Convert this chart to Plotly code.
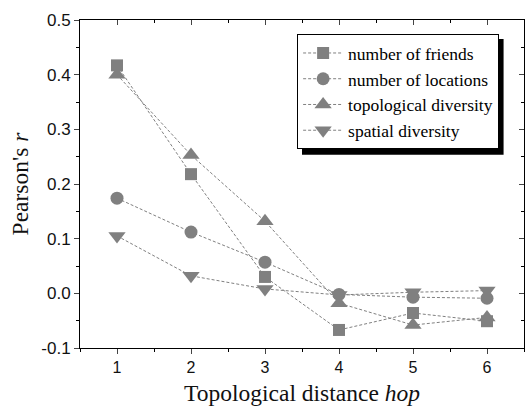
import plotly.graph_objects as go

hops = [1, 2, 3, 4, 5, 6]
series_names = ["number of friends", "number of locations", "topological diversity", "spatial diversity"]
friends = [0.417, 0.218, 0.030, -0.067, -0.036, -0.051]
locations = [0.174, 0.112, 0.057, -0.002, -0.007, -0.009]
topo_div = [0.400, 0.253, 0.132, -0.018, -0.058, -0.044]
spatial_div = [0.105, 0.032, 0.008, -0.003, 0.002, 0.005]
y_ticks = [-0.1, 0.0, 0.1, 0.2, 0.3, 0.4, 0.5]
y_tick_labels = ["-0.1", "0.0", "0.1", "0.2", "0.3", "0.4", "0.5"]
x_ticks = [1, 2, 3, 4, 5, 6]

GRAY = "#808080"
symbols = ["square", "circle", "triangle-up", "triangle-down"]
sizes = [12, 13, 15, 15]
values = [friends, locations, topo_div, spatial_div]

fig = go.Figure()
for name, vals, sym, sz in zip(series_names, values, symbols, sizes):
    fig.add_trace(go.Scatter(
        x=hops, y=vals, name=name, mode="lines+markers",
        line=dict(color=GRAY, width=1, dash="3px,2px"),
        marker=dict(symbol=sym, size=sz, color=GRAY),
    ))

# invisible trace to activate mirrored (top/right) axes
fig.add_trace(go.Scatter(x=[hops[0]], y=[y_ticks[0]], xaxis="x2", yaxis="y2",
                         mode="markers", marker=dict(opacity=0), showlegend=False,
                         hoverinfo="skip"))

sans = "Liberation Sans, Arial, sans-serif"
serif = "Liberation Serif, Times New Roman, serif"

fig.update_layout(
    template="none",
    width=526, height=412,
    margin=dict(l=80, r=2, t=20, b=64, autoexpand=False),
    plot_bgcolor="white", paper_bgcolor="white",
    showlegend=True,
    legend=dict(x=0.489, y=0.957, xanchor="left", yanchor="top",
                bgcolor="white", bordercolor="black", borderwidth=1,
                font=dict(family=serif, size=17.5, color="#000"),
                tracegroupgap=0, itemwidth=40),
    xaxis=dict(range=[0.5, 6.5], tickvals=x_ticks, ticks="outside", ticklen=5,
               showline=True, linecolor="black", linewidth=1, showgrid=False,
               zeroline=False, automargin=False,
               tickfont=dict(family=sans, size=16, color="#111"),
               minor=dict(dtick=0.5, tick0=0.5, ticks="outside", ticklen=3, tickcolor="black"),
               title=dict(text="Topological distance <i>hop</i>",
                          font=dict(family=serif, size=23.5, color="#111"), standoff=9)),
    yaxis=dict(range=[-0.1, 0.5], tickvals=y_ticks, ticktext=y_tick_labels, ticks="outside",
               ticklen=5, showline=True, linecolor="black", linewidth=1, showgrid=False,
               zeroline=False, automargin=False,
               tickfont=dict(family=sans, size=17, color="#111"),
               minor=dict(dtick=0.05, tick0=0, ticks="outside", ticklen=3, tickcolor="black"),
               title=dict(text="Pearson's <i>r</i>",
                          font=dict(family=serif, size=23.5, color="#111"), standoff=6)),
    xaxis2=dict(overlaying="x", matches="x", side="top", range=[0.5, 6.5], tickvals=x_ticks,
                ticks="inside", ticklen=5, showticklabels=False, showline=True,
                linecolor="black", linewidth=1, showgrid=False, zeroline=False, automargin=False,
                minor=dict(dtick=0.5, tick0=0.5, ticks="inside", ticklen=3, tickcolor="black")),
    yaxis2=dict(overlaying="y", matches="y", side="right", range=[-0.1, 0.5], tickvals=y_ticks,
                ticks="inside", ticklen=5, showticklabels=False, showline=True,
                linecolor="black", linewidth=1, showgrid=False, zeroline=False, automargin=False,
                minor=dict(dtick=0.05, tick0=0, ticks="inside", ticklen=3, tickcolor="black")),
    shapes=[dict(type="rect", xref="paper", yref="paper",
                 x0=0.5, x1=0.954, y0=0.589, y1=0.942,
                 fillcolor="black", line=dict(width=0), layer="above")],
)

fig.write_html("out.html", config={"displayModeBar": False},
               post_script="document.body.style.margin='0';")
